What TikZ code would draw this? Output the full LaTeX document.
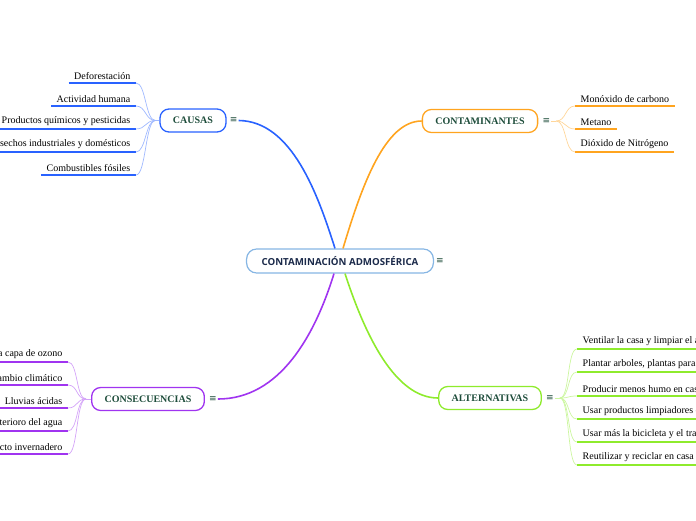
\documentclass[tikz,border=0pt]{standalone}
\usepackage{fontspec}
\setmainfont{Liberation Serif}
\newfontfamily\centralfont{Open Sans}
\newfontfamily\symfont{DejaVu Sans}
\usetikzlibrary{positioning}
\definecolor{causaC}{HTML}{2962FF}
\definecolor{contC}{HTML}{FFA41F}
\definecolor{consC}{HTML}{A034F0}
\definecolor{altC}{HTML}{8EEB2C}
\definecolor{centralC}{HTML}{86B6E4}
\definecolor{topicText}{HTML}{1E4D3B}
\definecolor{centralText}{HTML}{1B2A4A}
\tikzset{
  central/.style={draw=centralC, line width=1.2pt, rounded corners=10pt, fill=white, minimum height=24pt, inner xsep=15pt, font=\centralfont\bfseries\fontsize{9.7}{11}\selectfont, text=centralText},
  topic/.style={line width=1.3pt, rounded corners=9pt, fill=white, minimum height=23pt, inner xsep=13pt, font=\bfseries\fontsize{10}{12}\selectfont, text=topicText},
  menu/.style={font=\symfont\fontsize{9}{10}\selectfont, text=topicText, inner sep=1pt},
  leaf/.style={font=\fontsize{10}{12}\selectfont, inner xsep=5.5pt, inner ysep=3pt},
  branch/.style={line width=1.6pt},
  twig/.style={line width=0.7pt},
  uline/.style={line width=1.8pt}
}
\begin{document}
\begin{tikzpicture}[x=1pt, y=-1pt]
  \useasboundingbox (0,0) rectangle (696,520);
  \clip (0,0) rectangle (696,520);
  % centre
  \node[central] (centro) at (340,261) {CONTAMINACIÓN ADMOSFÉRICA};
  \node[menu] (centrom) at (440,261) {≡};
  % topics
  \node[topic, draw=causaC] (causas) at (193,120.5) {CAUSAS};
  \node[menu] (causasm) at ([xshift=7pt]causas.east) {≡};
  \node[topic, draw=contC] (cont) at (480,121) {CONTAMINANTES};
  \node[menu] (contm) at ([xshift=8pt]cont.east) {≡};
  \node[topic, draw=consC] (cons) at (148,399) {CONSECUENCIAS};
  \node[menu] (consm) at ([xshift=8pt]cons.east) {≡};
  \node[topic, draw=altC] (alt) at (490,398) {ALTERNATIVAS};
  \node[menu] (altm) at ([xshift=8pt]alt.east) {≡};
  % main branches
  \draw[branch, causaC] ([xshift=-5pt]centro.north) .. controls (318,195) and (292,121) .. (causasm.east);
  \draw[branch, contC] ([xshift=3pt]centro.north) .. controls (362,185) and (385,121) .. (cont.west);
  \draw[branch, consC] ([xshift=-6pt]centro.south) .. controls (315,335) and (280,399) .. (consm.east);
  \draw[branch, altC] ([xshift=5pt]centro.south) .. controls (365,335) and (395,398) .. (alt.west);
  % causas
  \coordinate (causasj) at ([xshift=-4pt]causas.west);
  \draw[twig, causaC!45] (causas.west) -- (causasj);
  \node[leaf, anchor=south east] (deforest) at (136,83) {Deforestación};
  \node[leaf, anchor=south east] (actividad) at (136,106) {Actividad humana};
  \node[leaf, anchor=south east] (quimicos) at (136,129) {Productos químicos y pesticidas};
  \node[leaf, anchor=south east] (desechos) at (136,152) {Desechos industriales y domésticos};
  \node[leaf, anchor=south east] (combust) at (136,175) {Combustibles fósiles};
  \foreach \n in {deforest,actividad,quimicos,desechos,combust}{
    \draw[uline, causaC] (\n.south west) -- (\n.south east);
    \draw[twig, causaC!45] (causasj) .. controls +(-10,0) and +(10,0) .. (\n.south east);
  }
  % contaminantes
  \coordinate (contj) at ([xshift=5pt]contm.east);
  \draw[twig, contC!45] (contm.east) -- (contj);
  \node[leaf, anchor=south west] (monox) at (575,106) {Monóxido de carbono};
  \node[leaf, anchor=south west] (metano) at (575,129) {Metano};
  \node[leaf, anchor=south west] (diox) at (575,152) {Dióxido de Nitrógeno};
  \foreach \n in {monox,metano,diox}{
    \draw[uline, contC] (\n.south west) -- (\n.south east);
    \draw[twig, contC!45] (contj) .. controls +(10,0) and +(-10,0) .. (\n.south west);
  }
  % consecuencias
  \coordinate (consj) at ([xshift=-5pt]cons.west);
  \draw[twig, consC!45] (cons.west) -- (consj);
  \node[leaf, anchor=south east] (ozono) at (68,362) {Destrucción de la capa de ozono};
  \node[leaf, anchor=south east] (clima) at (68,385) {Cambio climático};
  \node[leaf, anchor=south east] (lluvias) at (68,408) {Lluvias ácidas};
  \node[leaf, anchor=south east] (agua) at (68,431) {Deterioro del agua};
  \node[leaf, anchor=south east] (efecto) at (68,454) {Efecto invernadero};
  \foreach \n in {ozono,clima,lluvias,agua,efecto}{
    \draw[uline, consC] (\n.south west) -- (\n.south east);
    \draw[twig, consC!45] (consj) .. controls +(-10,0) and +(10,0) .. (\n.south east);
  }
  % alternativas
  \coordinate (altj) at ([xshift=5pt]altm.east);
  \draw[twig, altC!45] (altm.east) -- (altj);
  \node[leaf, anchor=south west] (ventilar) at (577,349) {Ventilar la casa y limpiar el aire};
  \node[leaf, anchor=south west] (plantar) at (577,372) {Plantar arboles, plantas para purificar el aire};
  \node[leaf, anchor=south west] (humo) at (577,396) {Producir menos humo en casa};
  \node[leaf, anchor=south west] (limpiad) at (577,419) {Usar productos limpiadores ecológicos};
  \node[leaf, anchor=south west] (bici) at (577,442) {Usar más la bicicleta y el transporte público};
  \node[leaf, anchor=south west] (recicl) at (577,465) {Reutilizar y reciclar en casa};
  \foreach \n in {ventilar,plantar,humo,limpiad,bici,recicl}{
    \draw[uline, altC] (\n.south west) -- (\n.south east);
    \draw[twig, altC!45] (altj) .. controls +(10,0) and +(-10,0) .. (\n.south west);
  }
\end{tikzpicture}
\end{document}
